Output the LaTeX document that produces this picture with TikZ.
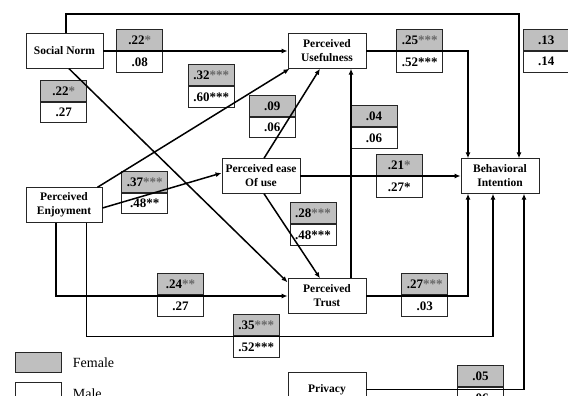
\documentclass[tikz,border=0pt]{standalone}
\usepackage{fontspec}
\setmainfont{Liberation Serif}
\usetikzlibrary{arrows.meta,calc}
\newcommand\gst[1]{\textcolor{black!60}{#1}}
\tikzset{
  box/.style={draw=black!85, line width=0.9pt, fill=white, minimum width=78pt,
    minimum height=34.5pt, align=center, inner sep=0pt,
    font=\fontsize{11.5}{14}\selectfont\bfseries},
  labf/.style={draw=black!85, line width=0.9pt, fill=black!25, minimum width=46pt,
    minimum height=20.7pt, inner sep=0pt, anchor=south,
    font=\fontsize{13}{14}\selectfont\bfseries},
  labm/.style={labf, fill=white, anchor=north},
  conn/.style={line width=1.5pt, -{Latex[length=6pt,width=5pt]}},
  connlite/.style={conn, line width=1.1pt},
  legtext/.style={anchor=west, inner sep=0pt, font=\fontsize{14}{16}\selectfont},
}
\newcommand\lab[5]{%
  \node[labf] (#1f) at (#2,#3) {#4};
  \node[labm] (#1m) at (#2,#3) {#5};}
\begin{document}
\begin{tikzpicture}[x=1pt,y=-1pt]
\useasboundingbox (0,0) rectangle (568,396);
\clip (0,0) rectangle (568,396);
% main boxes
\node[box, minimum width=77pt] (sn) at (64.5,51) {Social Norm};
\node[box] (pu) at (327,51) {Perceived\\Usefulness};
\node[box] (peou) at (261,176) {Perceived ease\\Of use};
\node[box] (bi) at (500,176) {Behavioral\\Intention};
\node[box, minimum width=76pt] (pe) at (64,205) {Perceived\\Enjoyment};
\node[box] (pt) at (327,296) {Perceived\\Trust};
\node[box, minimum height=34pt, anchor=north] (pr) at (327,372) {Privacy};
% labels
\lab{l1}{139.7}{51}{.22\gst{*}}{.08}
\lab{l2}{63.7}{101.7}{.22\gst{*}}{.27}
\lab{l3}{211.2}{86}{.32\gst{***}}{.60***}
\lab{l4}{272.2}{116.7}{.09}{.06}
\lab{l5}{374}{127}{.04}{.06}
\lab{l6}{419.7}{51}{.25\gst{***}}{.52***}
\lab{l7}{546.3}{51}{.13}{.14}
\lab{l8}{144.7}{192.7}{.37\gst{***}}{.48**}
\lab{l9}{399.3}{176}{.21\gst{*}}{.27*}
\lab{l10}{313}{224}{.28\gst{***}}{.48***}
\lab{l11}{180.5}{295}{.24\gst{**}}{.27}
\lab{l12}{424.7}{295}{.27\gst{***}}{.03}
\lab{l13}{256.3}{336}{.35\gst{***}}{.52***}
\lab{l14}{480.5}{387}{.05}{.06}
% legend
\node[draw=black!85, line width=0.9pt, fill=black!25, minimum width=46pt, minimum height=20pt, inner sep=0pt] (legf) at (38,362) {};
\node[draw=black!85, line width=0.9pt, fill=white, minimum width=46pt, minimum height=20pt, inner sep=0pt] (legm) at (38,392) {};
\node[legtext] (legft) at (72.7,363) {Female};
\node[legtext] (legmt) at (72.7,393.5) {Male};
% connectors
\draw[connlite] ([xshift=1.5pt]sn.north) -- ++(0,-19.3) -| ([xshift=19pt]bi.north);
\draw[connlite] (pu.east) -| ([xshift=-32pt]bi.north);
\draw[conn] (sn.east) -- (pu.west);
\draw[conn] ([xshift=4.5pt]sn.south) -- ([yshift=-4pt]pt.north west);
\draw[conn] ([xshift=-5pt]pe.north east) -- ([xshift=2pt]pu.south west);
\draw[conn] ([yshift=-3pt]pe.east) -- ([yshift=3pt]peou.west);
\draw[conn] ([xshift=3pt]peou.north) -- ([xshift=-7pt]pu.south);
\draw[conn] ([xshift=3pt]peou.south) -- ([xshift=-7pt]pt.north);
\draw[conn] ([xshift=24pt]pt.north) -- ([xshift=24pt]pu.south);
\draw[conn] (peou.east) -- (bi.west);
\draw[conn] ([xshift=-8pt]pe.south) |- (pt.west);
\draw[conn] ([xshift=22.7pt]pe.south) -- ++(0,114) -| ([xshift=-7pt]bi.south);
\draw[conn] (pt.east) -| ([xshift=-32pt]bi.south);
\draw[conn] (pr.east) -| ([xshift=24pt]bi.south);
\end{tikzpicture}
\end{document}
